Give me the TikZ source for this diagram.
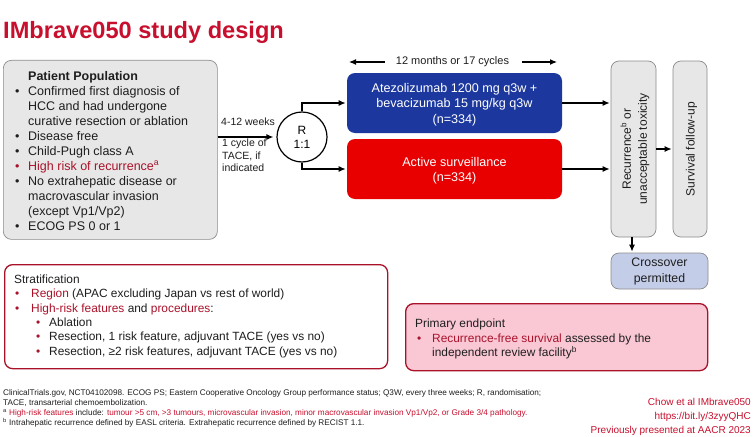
\documentclass[tikz,border=0pt]{standalone}
\usepackage{fontspec}
\setmainfont{Liberation Sans}
\usetikzlibrary{arrows.meta}
\definecolor{crimson}{RGB}{200,16,46}
\definecolor{darkred}{RGB}{170,18,42}
\definecolor{boxblue}{RGB}{28,56,158}
\definecolor{boxred}{RGB}{232,0,0}
\definecolor{lgray}{RGB}{231,231,231}
\definecolor{mgray}{RGB}{140,140,140}
\definecolor{xblue}{RGB}{196,205,232}
\definecolor{pinkfill}{RGB}{250,200,213}
\definecolor{txt}{RGB}{30,30,30}
\newcommand\ppbul{\makebox[13pt][l]{\textbullet}}
\newcommand\stbul{\makebox[17pt][l]{\hspace*{1pt}\textcolor{darkred}{\textbullet}}}
\newcommand\substbul{\makebox[13pt][l]{\textcolor{darkred}{\textbullet}}}
\begin{document}
\begin{tikzpicture}[x=1pt,y=-1pt,
  arr/.style={line width=1.2pt,-{Latex[length=7pt,width=6pt]}},
  rbox/.style={rounded corners=8pt,line width=0.7pt,inner sep=0pt},
  body/.style={font=\fontsize{12.5}{15}\selectfont,align=left,inner sep=0pt,anchor=north west,text=txt},
  small/.style={font=\fontsize{11.9}{14.4}\selectfont,align=left,inner sep=0pt,anchor=north west,text=txt},
  lab/.style={font=\fontsize{10.5}{12.7}\selectfont,align=left,inner sep=0pt,text=txt},
  armtext/.style={inner sep=0pt,text=white,align=center,font=\fontsize{12.6}{15.5}\selectfont}]
\useasboundingbox[fill=white] (0,0) rectangle (754,436);

% title
\node[anchor=base west,inner sep=0pt,text=crimson,font=\fontsize{23.6}{28}\selectfont\bfseries] (title) at (3,38) {IMbrave050 study design};

% patient population
\node[rbox,draw=mgray,fill=lgray,minimum width=214pt,minimum height=179pt,anchor=north west] (pp) at (3,60) {};
\node[body] (pptext) at (15,70.8) {\hspace*{13pt}\textbf{Patient Population}\\
\ppbul Confirmed first diagnosis of\\
\hspace*{13pt}HCC and had undergone\\
\hspace*{13pt}curative resection or ablation\\
\ppbul Disease free\\
\ppbul Child-Pugh class A\\
\textcolor{darkred}{\ppbul High risk of recurrence\textsuperscript{a}}\\
\ppbul No extrahepatic disease or\\
\hspace*{13pt}macrovascular invasion\\
\hspace*{13pt}(except Vp1/Vp2)\\
\ppbul ECOG PS 0 or 1};

% randomisation
\node[draw,circle,line width=1.2pt,minimum size=50pt,inner sep=0pt,align=center,font=\fontsize{12}{14}\selectfont] (rand) at (302,137) {R\\1:1};
\draw[arr,shorten >=3pt] (pp.east |- rand.west) -- (rand.west);
\node[lab,anchor=base west] (weeks) at (221,125) {4-12 weeks};
\node[lab,anchor=north west] (tace) at (222,138.5) {1 cycle of\\TACE, if\\indicated};

% arms
\node[rbox,fill=boxblue,minimum width=215pt,minimum height=60pt] (blue) at (454.5,103) {};
\node[armtext] (bluetext) at (454.5,104.5) {Atezolizumab 1200 mg q3w +\\bevacizumab 15 mg/kg q3w\\(n=334)};
\node[rbox,fill=boxred,minimum width=215pt,minimum height=60pt] (red) at (454.5,169) {};
\node[armtext] (redtext) at (454.5,170.5) {Active surveillance\\(n=334)};
\draw[arr,shorten >=1pt] (rand.north) |- (blue.west);
\draw[arr,shorten >=1pt] (rand.south) |- (red.west);

% duration
\node[inner sep=0pt,font=\fontsize{11}{13}\selectfont,text=txt] (months) at (452.5,62) {12 months or 17 cycles};
\coordinate (ml) at (349,62);
\coordinate (mr) at (557,62);
\draw[arr,shorten <=11pt] (months.west) -- (ml);
\draw[arr,shorten <=13pt] (months.east) -- (mr);

% recurrence / follow-up
\node[rbox,draw=mgray,fill=lgray,minimum width=45pt,minimum height=176pt] (rec) at (633.5,149) {};
\node[rotate=90,align=center,inner sep=0pt,font=\fontsize{12}{16}\selectfont,text=txt] (rectext) at (635,149) {Recurrence\textsuperscript{b} or\\unacceptable toxicity};
\node[rbox,draw=mgray,fill=lgray,minimum width=34pt,minimum height=176pt] (surv) at (690,149) {};
\node[rotate=90,inner sep=0pt,font=\fontsize{12}{15}\selectfont,text=txt] (survtext) at (691.5,149) {Survival follow-up};
\draw[arr,shorten >=1pt] (blue.east) -- (blue.east -| rec.west);
\draw[arr,shorten >=1pt] (red.east) -- (red.east -| rec.west);
\draw[arr,shorten >=1pt] (rec.east) -- (surv.west);

\node[rbox,draw=mgray,fill=xblue,minimum width=97pt,minimum height=36pt,align=center,font=\fontsize{12.3}{16}\selectfont,text=txt] (cross) at (659.5,271) {Crossover\\permitted};
\draw[arr,shorten >=1pt] (rec.south -| 632,0) -- (cross.north -| 632,0);

% stratification
\node[rbox,draw=darkred,line width=1.3pt,fill=white,minimum width=383pt,minimum height=104pt,anchor=north west] (strat) at (4,264) {};
\node[small] (strattext) at (14,274.5) {Stratification\\
\stbul\textcolor{darkred}{Region} (APAC excluding Japan vs rest of world)\\
\stbul\textcolor{darkred}{High-risk features} and \textcolor{darkred}{procedures}:\\
\hspace*{22pt}\substbul Ablation\\
\hspace*{22pt}\substbul Resection, 1 risk feature, adjuvant TACE (yes vs no)\\
\hspace*{22pt}\substbul Resection, ≥2 risk features, adjuvant TACE (yes vs no)};

% primary endpoint
\node[rbox,draw=darkred,line width=1.3pt,fill=pinkfill,minimum width=302pt,minimum height=67pt,anchor=north west] (pe) at (405,303) {};
\node[small] (petext) at (415,319) {Primary endpoint\\
\makebox[17pt][l]{\hspace*{2pt}\textcolor{darkred}{\textbullet}}\textcolor{darkred}{Recurrence-free survival} assessed by the\\
\hspace*{17pt}independent review facility\textsuperscript{b}};

% footnotes
\node[anchor=north west,inner sep=0pt,align=left,font=\fontsize{8.2}{10}\selectfont,text=txt] (foot) at (3,389) {ClinicalTrials.gov, NCT04102098. ECOG PS; Eastern Cooperative Oncology Group performance status; Q3W, every three weeks; R, randomisation;\\
TACE, transarterial chemoembolization.\\
\textsuperscript{a} \textcolor{crimson}{High-risk features} include: \textcolor{crimson}{tumour >5 cm, >3 tumours, microvascular invasion, minor macrovascular invasion Vp1/Vp2, or Grade 3/4 pathology.}\\
\textsuperscript{b} Intrahepatic recurrence defined by EASL criteria. Extrahepatic recurrence defined by RECIST 1.1.};
\node[anchor=north east,inner sep=0pt,align=right,font=\fontsize{10}{14}\selectfont,text=crimson] (credit) at (751,398) {Chow et al IMbrave050\\https://bit.ly/3zyyQHC\\Previously presented at AACR 2023};
\end{tikzpicture}
\end{document}
